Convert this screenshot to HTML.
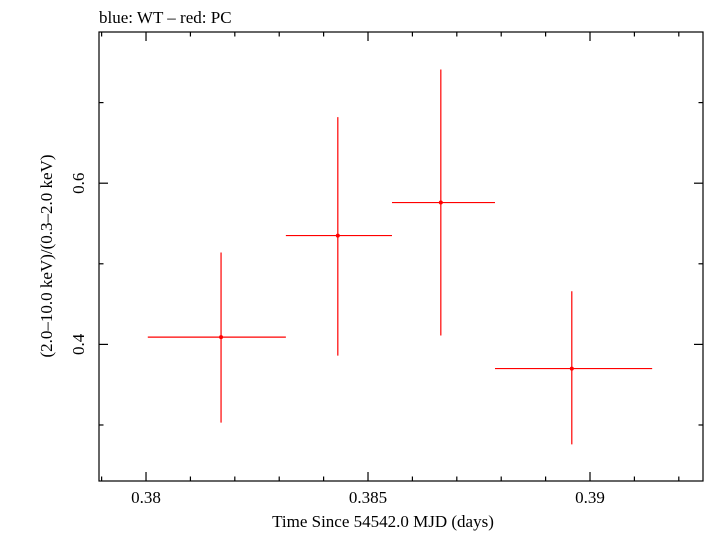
<!DOCTYPE html>
<html><head><meta charset="utf-8"><style>
body{margin:0;background:#fff;}
svg text{font-family:"Liberation Serif",serif;fill:#000;}
</style></head><body>
<svg id="chart" width="705" height="532" xmlns="http://www.w3.org/2000/svg">
<text x="99" y="23" font-size="17">blue: WT – red: PC</text>
<rect x="99" y="32" width="604" height="449" fill="none" stroke="#000" stroke-width="1.2"/>
<g id="ticks"></g>
<g id="marks"></g>
<text x="383" y="527" font-size="17" text-anchor="middle">Time Since 54542.0 MJD (days)</text>
<text transform="translate(52,256) rotate(-90)" font-size="17" text-anchor="middle">(2.0–10.0 keV)/(0.3–2.0 keV)</text>
</svg>
<script>
const xCenters=[0.38169,0.38432,0.38664,0.38959];
const xLow=[0.38004,0.38315,0.38554,0.38786];
const xHigh=[0.38315,0.38554,0.38786,0.39140];
const yValues=[0.409,0.535,0.576,0.370];
const yLow=[0.303,0.386,0.411,0.276];
const yHigh=[0.514,0.682,0.741,0.466];
const xTickLabels=["0.38","0.385","0.39"];
const yTickLabels=["0.4","0.6"];
const L=99,R=703,T=32,B=481;
const X0=0.378941,X1=0.392545,Y0=0.2305,Y1=0.7876;
const sx=v=>L+(v-X0)/(X1-X0)*(R-L);
const sy=v=>B-(v-Y0)/(Y1-Y0)*(B-T);
const NS="http://www.w3.org/2000/svg";
function mk(tag,attrs,parent){const e=document.createElementNS(NS,tag);for(const k in attrs)e.setAttribute(k,attrs[k]);parent.appendChild(e);return e;}
const tg=document.getElementById('ticks');
for(let i=0;i<=14;i++){
  const v=0.379+i*0.001; if(v>X1) break;
  const x=sx(v); const major=Math.abs(Math.round(v*200)-v*200)<1e-6; const len=major?9:4.5;
  const a=mk('line',{x1:x,x2:x,y1:B,y2:B-len,stroke:'#000','stroke-width':1.2},tg);
  
  
  const b=mk('line',{x1:x,x2:x,y1:T,y2:T+len,stroke:'#000','stroke-width':1.2},tg);
  
  
}
xTickLabels.forEach(s=>{
  const t=mk('text',{x:sx(parseFloat(s)),y:503,'font-size':17,'text-anchor':'middle'},tg);t.textContent=s;
  
  
});
for(let i=3;i<=7;i++){
  const v=i/10; const y=sy(v); const major=(i%2==0); const len=major?9:4.5;
  const a=mk('line',{x1:L,x2:L+len,y1:y,y2:y,stroke:'#000','stroke-width':1.2},tg);
  
  
  const b=mk('line',{x1:R,x2:R-len,y1:y,y2:y,stroke:'#000','stroke-width':1.2},tg);
  
  
}
yTickLabels.forEach(s=>{
  const y=sy(parseFloat(s));
  const t=mk('text',{transform:`translate(84,${y}) rotate(-90)`,'font-size':17,'text-anchor':'middle'},tg);t.textContent=s;
  
  
});
const mg=document.getElementById('marks');
xCenters.forEach((xc,i)=>{
  const g=mk('g',{},mg);
  
  
  mk('line',{x1:sx(xLow[i]),x2:sx(xHigh[i]),y1:sy(yValues[i]),y2:sy(yValues[i]),stroke:'#f00','stroke-width':1.2},g);
  mk('line',{x1:sx(xc),x2:sx(xc),y1:sy(yLow[i]),y2:sy(yHigh[i]),stroke:'#f00','stroke-width':1.2},g);
  mk('circle',{cx:sx(xc),cy:sy(yValues[i]),r:2,fill:'#f00'},g);
});
</script>
</body></html>
